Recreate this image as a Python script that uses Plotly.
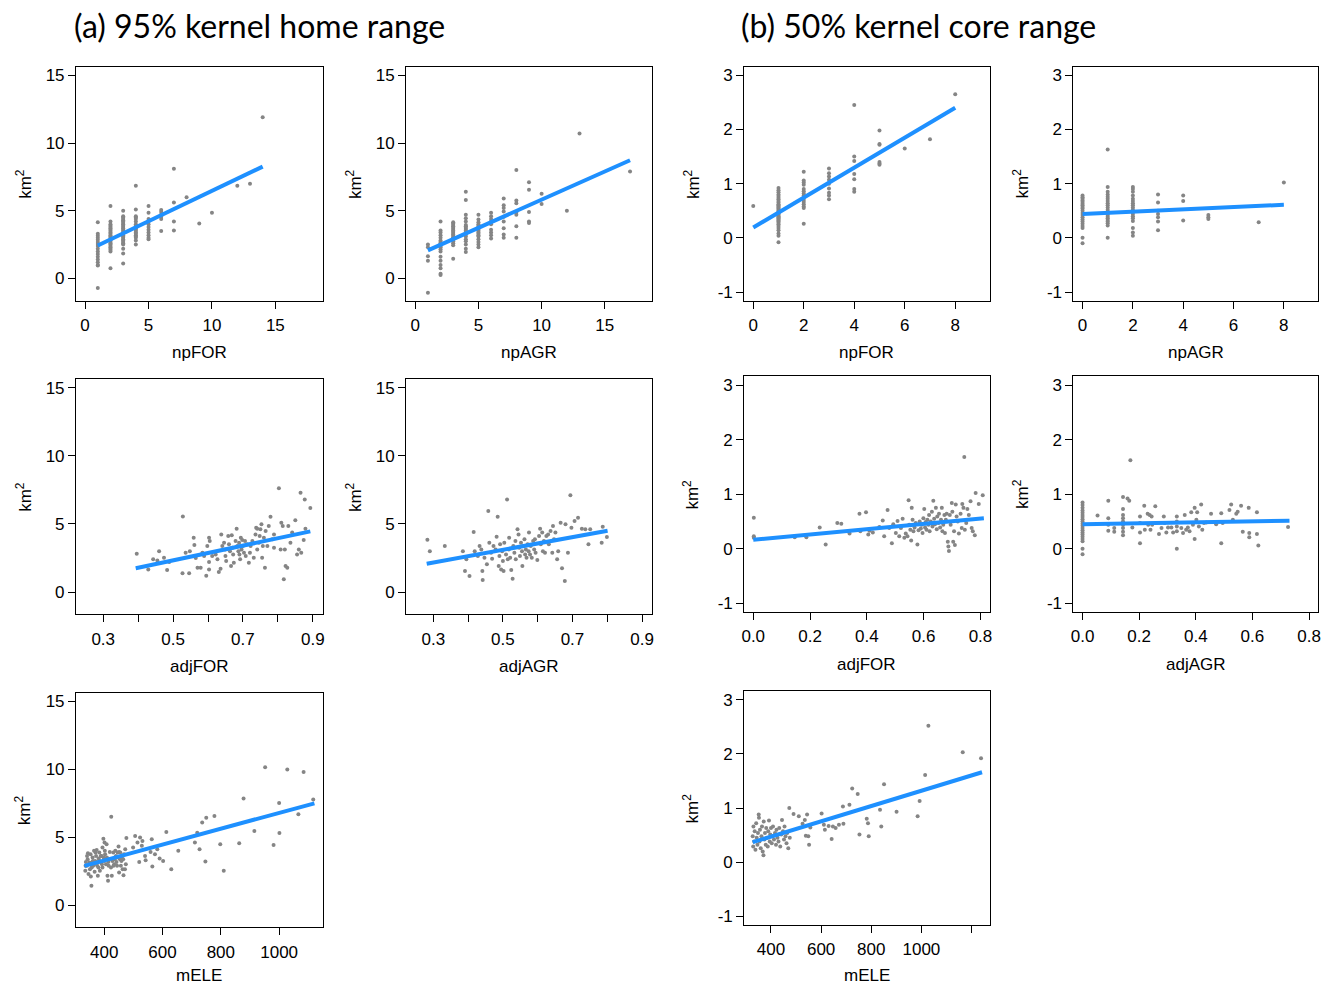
import plotly.graph_objects as go

W, H = 1338, 986

# ------------------------------------------------------------------ data
# (a) 95% kernel home range  -- discrete predictors: {x: [y values]}
a_npFOR = {
    1: [4.15, 3.3, 3.15, 3.0, 2.85, 2.7, 2.55, 2.4, 2.2, 2.0, 1.8, 1.6, 1.4, 1.2, 1.0, 0.95, -0.7],
    2: [5.35, 4.2, 4.0, 3.9, 3.8, 3.7, 3.6, 3.5, 3.4, 3.3, 3.2, 3.1, 3.0, 2.9, 2.8, 2.7, 2.6,
        2.5, 2.4, 2.3, 2.2, 2.1, 2.0, 0.75],
    3: [5.0, 4.6, 4.5, 4.4, 4.3, 4.2, 4.1, 4.0, 3.9, 3.8, 3.7, 3.6, 3.5, 3.4, 3.3, 3.2, 3.1,
        3.0, 2.9, 2.8, 2.7, 2.6, 2.5, 2.2, 1.85, 1.1],
    4: [6.85, 5.1, 4.6, 4.5, 4.4, 4.2, 4.0, 3.9, 3.8, 3.7, 3.6, 3.5, 3.4, 3.3, 3.2, 3.1, 3.0, 2.8, 2.5],
    5: [5.35, 4.85, 4.4, 4.2, 4.0, 3.8, 3.6, 3.4, 3.2, 3.0, 2.9],
    6: [5.05, 4.9, 4.7, 4.55, 4.4, 3.5],
    7: [8.1, 5.6, 4.2, 3.55],
    8: [6.0], 9: [4.05], 10: [4.85], 12: [6.85], 13: [7.0], 14: [11.9],
}
a_npFOR_fit_x = [1, 14]
a_npFOR_fit_y = [2.43, 8.26]

a_npAGR = {
    1: [2.5, 2.3, 1.65, 1.3, -1.05],
    2: [4.2, 3.55, 3.4, 3.2, 3.0, 2.8, 2.7, 2.6, 2.5, 2.4, 2.3, 2.15, 2.0, 1.6, 1.3, 1.0, 0.75, 0.35, 0.25],
    3: [4.15, 4.05, 3.95, 3.85, 3.75, 3.65, 3.55, 3.45, 3.35, 3.25, 3.15, 3.05, 2.95, 2.85, 2.75,
        2.6, 2.45, 1.45],
    4: [6.4, 5.8, 4.7, 4.45, 4.2, 3.95, 3.85, 3.75, 3.65, 3.55, 3.45, 3.35, 3.25, 3.1, 2.9, 2.75,
        2.5, 2.2, 1.95],
    5: [4.7, 4.35, 4.15, 4.0, 3.9, 3.8, 3.7, 3.6, 3.5, 3.4, 3.3, 3.2, 3.1, 2.9, 2.7, 2.5, 2.3],
    6: [4.85, 4.6, 4.4, 4.2, 4.0, 3.6, 3.4, 3.2, 2.95],
    7: [5.9, 5.4, 5.2, 4.95, 4.55, 4.2, 3.7, 3.25, 3.0],
    8: [8.0, 5.75, 5.55, 4.85, 4.7, 3.85, 3.0],
    9: [7.1, 6.55, 4.9, 4.2, 4.1],
    10: [6.25, 5.5], 12: [5.0], 13: [10.7], 17: [7.9],
}
a_npAGR_fit_x = [1, 17]
a_npAGR_fit_y = [2.08, 8.73]

# (a) continuous predictors
a_adjFOR_x = [0.396, 0.429, 0.443, 0.455, 0.46, 0.474, 0.483, 0.489, 0.528, 0.527, 0.536, 0.546, 0.548,
              0.559, 0.561, 0.565, 0.57, 0.579, 0.584, 0.589, 0.595, 0.598, 0.603, 0.605, 0.603, 0.603,
              0.612, 0.622, 0.627, 0.631, 0.636, 0.638, 0.641, 0.646, 0.649, 0.65, 0.652, 0.658, 0.66,
              0.663, 0.666, 0.668, 0.67, 0.672, 0.674, 0.679, 0.682, 0.684, 0.687, 0.689, 0.69, 0.692,
              0.694, 0.696, 0.698, 0.7, 0.703, 0.706, 0.708, 0.712, 0.717, 0.72, 0.722, 0.727, 0.731,
              0.736, 0.738, 0.741, 0.746, 0.748, 0.75, 0.753, 0.755, 0.757, 0.76, 0.763, 0.765, 0.77,
              0.774, 0.779, 0.784, 0.789, 0.803, 0.808, 0.81, 0.814, 0.817, 0.82, 0.822, 0.827, 0.83,
              0.836, 0.841, 0.85, 0.855, 0.86, 0.865, 0.867, 0.874, 0.877, 0.879, 0.893, 0.789, 0.741]
a_adjFOR_y = [2.81, 1.66, 2.4, 2.32, 3.0, 2.52, 1.61, 2.2, 5.55, 1.37, 2.89, 1.37, 3.0,
              3.99, 3.45, 2.5, 1.79, 1.79, 2.89, 2.64, 1.2, 3.38, 3.99, 3.74, 2.2, 1.66,
              2.64, 2.76, 2.4, 1.47, 1.71, 4.23, 3.38, 3.62, 3.13, 2.64, 2.28, 4.11, 3.5,
              3.0, 1.91, 4.16, 3.25, 2.76, 2.15, 3.74, 4.65, 3.38, 3.0, 3.62, 2.76, 2.4,
              3.99, 3.13, 3.82, 3.38, 2.89, 3.74, 2.64, 3.5, 2.15, 2.89, 3.38, 3.74, 2.52,
              4.23, 4.72, 3.13, 3.62, 4.11, 4.6, 4.97, 2.52, 3.38, 3.99, 1.79, 4.48, 3.38,
              4.84, 5.53, 3.87, 4.23, 7.61, 3.13, 5.09, 4.84, 0.93, 3.13, 1.91, 1.79, 4.84,
              3.62, 4.36, 5.26, 2.76, 3.13, 7.29, 2.89, 3.82, 6.8, 4.65, 6.17, 3.25, 4.65]
a_adjFOR_fit_x = [0.393, 0.893]
a_adjFOR_fit_y = [1.74, 4.45]

a_adjAGR_x = [0.283, 0.29, 0.333, 0.385, 0.391, 0.395, 0.404, 0.416, 0.419, 0.428, 0.433, 0.438, 0.441,
              0.442, 0.447, 0.454, 0.458, 0.461, 0.466, 0.469, 0.473, 0.479, 0.482, 0.485, 0.488, 0.49,
              0.492, 0.495, 0.498, 0.5, 0.502, 0.504, 0.509, 0.512, 0.514, 0.517, 0.518, 0.521, 0.524,
              0.528, 0.53, 0.533, 0.536, 0.537, 0.542, 0.545, 0.547, 0.549, 0.552, 0.555, 0.556, 0.559,
              0.562, 0.564, 0.566, 0.568, 0.571, 0.574, 0.575, 0.578, 0.58, 0.583, 0.587, 0.59, 0.592,
              0.594, 0.599, 0.604, 0.607, 0.609, 0.613, 0.615, 0.618, 0.621, 0.625, 0.63, 0.632, 0.637,
              0.642, 0.644, 0.647, 0.651, 0.656, 0.659, 0.666, 0.67, 0.678, 0.68, 0.687, 0.694, 0.697,
              0.706, 0.716, 0.727, 0.737, 0.746, 0.751, 0.784, 0.787, 0.799]
a_adjAGR_y = [3.84, 2.99, 3.38, 2.99, 1.54, 2.4, 1.17, 4.4, 3.0, 2.64, 3.38, 3.13, 1.54,
              0.88, 2.52, 2.03, 5.95, 3.62, 2.89, 2.45, 3.38, 3.13, 4.06, 5.53, 1.91, 2.64,
              3.5, 1.66, 3.0, 2.28, 1.54, 3.62, 2.76, 6.8, 2.4, 3.13, 3.99, 2.52, 1.61,
              0.98, 3.38, 2.89, 3.74, 2.4, 4.6, 4.23, 3.25, 2.64, 3.62, 3.0, 1.91, 3.38,
              3.87, 2.76, 3.13, 2.52, 3.5, 3.0, 4.36, 2.76, 3.38, 2.52, 3.74, 3.13, 3.87,
              2.89, 2.35, 4.11, 4.65, 3.5, 4.36, 3.0, 3.74, 2.89, 4.11, 4.23, 3.5, 4.48,
              2.89, 4.84, 3.87, 4.36, 2.4, 3.0, 5.09, 1.74, 0.81, 4.97, 2.89, 7.1, 4.72,
              5.21, 5.45, 4.65, 4.6, 3.5, 4.6, 3.62, 4.8, 4.04]
a_adjAGR_fit_x = [0.281, 0.801]
a_adjAGR_fit_y = [2.08, 4.5]

a_mELE_x = [335, 337, 340, 343, 344, 346, 351, 354, 356, 358, 360, 362, 365, 367, 369, 372, 374, 376,
            378, 381, 383, 385, 389, 391, 394, 394, 397, 400, 401, 403, 406, 408, 411, 413, 415, 417,
            419, 424, 426, 428, 431, 434, 438, 440, 442, 446, 449, 451, 454, 457, 460, 463, 466, 468,
            472, 474, 476, 336, 341, 349, 353, 357, 361, 366, 370, 375, 380, 384, 388, 392, 398, 402,
            409, 414, 423, 432, 436, 444, 448, 455, 459, 465, 471, 451,
            499, 506, 514, 520, 523, 529, 531, 540, 542, 559, 563, 565, 574, 582, 590, 602, 613, 630,
            654, 711, 719, 727, 736, 747, 750, 778, 798, 810, 863, 878, 915, 952, 981, 1000, 1001,
            1028, 1066, 1084, 1117]
a_mELE_y = [2.52, 3.18, 2.89, 3.38, 3.82, 2.28, 2.64, 2.1, 1.42, 3.13, 3.5, 2.89, 3.99, 2.45, 3.25, 3.62,
            4.06, 2.89, 2.15, 3.43, 3.87, 2.52, 3.13, 3.62, 4.23, 2.76, 4.89, 3.25, 4.6, 3.74, 3.0, 4.48,
            2.15, 1.79, 2.89, 3.38, 3.91, 6.51, 2.15, 3.25, 3.87, 3.0, 3.99, 3.62, 3.18, 3.87, 4.31, 2.4,
            3.38, 2.89, 3.5, 2.64, 2.2, 3.74, 4.11, 3.0, 4.94, 2.89, 3.62, 3.13, 3.74, 2.76, 3.25, 3.0,
            3.87, 3.18, 2.76, 3.25, 3.62, 3.0, 3.5, 3.99, 3.5, 3.18, 2.76, 2.89, 3.38, 2.89, 3.5, 3.87,
            3.25, 3.38, 2.64, 3.91,
            4.23, 5.09, 4.6, 3.18, 4.97, 4.36, 4.72, 3.62, 3.3, 3.91, 4.84, 2.84, 3.74, 4.11, 3.43, 3.25,
            5.38, 2.64, 3.99, 4.6, 5.33, 4.11, 6.07, 3.21, 6.43, 6.56, 4.48, 2.52, 4.55, 7.85, 5.46,
            10.15, 4.43, 7.51, 5.31, 9.98, 6.68, 9.79, 7.78]
a_mELE_fit_x = [332, 1121]
a_mELE_fit_y = [2.89, 7.49]

# (b) 50% kernel core range
b_npFOR = {
    0: [0.59],
    1: [0.92, 0.88, 0.84, 0.8, 0.77, 0.74, 0.71, 0.68, 0.65, 0.62, 0.6, 0.58, 0.56, 0.54, 0.52, 0.5,
        0.48, 0.46, 0.44, 0.42, 0.4, 0.38, 0.36, 0.34, 0.32, 0.3, 0.28, 0.25, 0.22, 0.18, 0.14, 0.08,
        0.04, -0.08],
    2: [1.22, 1.06, 1.02, 0.98, 0.9, 0.86, 0.82, 0.78, 0.74, 0.7, 0.66, 0.62, 0.58, 0.55, 0.26],
    3: [1.28, 1.19, 1.13, 1.07, 1.0, 0.91, 0.83, 0.78, 0.71],
    4: [2.45, 1.5, 1.42, 1.18, 1.08, 0.9, 0.85],
    5: [1.98, 1.73, 1.72, 1.4, 1.35, 1.37],
    6: [1.65], 7: [1.82], 8: [2.65],
}
b_npFOR_fit_x = [0, 8]
b_npFOR_fit_y = [0.19, 2.40]

b_npAGR = {
    0: [0.78, 0.75, 0.72, 0.69, 0.66, 0.63, 0.6, 0.57, 0.54, 0.5, 0.46, 0.42, 0.38, 0.34, 0.3, 0.26,
        0.22, 0.18, 0.0, -0.1],
    1: [1.63, 0.94, 0.85, 0.8, 0.76, 0.72, 0.68, 0.64, 0.6, 0.56, 0.52, 0.48, 0.45, 0.42, 0.39, 0.36,
        0.33, 0.3, 0.27, 0.23, 0.0],
    2: [0.94, 0.9, 0.85, 0.78, 0.72, 0.68, 0.64, 0.6, 0.56, 0.52, 0.48, 0.44, 0.4, 0.36, 0.31, 0.18,
        0.1, 0.04],
    3: [0.8, 0.65, 0.5, 0.44, 0.38, 0.3, 0.14],
    4: [0.78, 0.68, 0.32],
    5: [0.42, 0.38, 0.35],
    7: [0.29], 8: [1.02],
}
b_npAGR_fit_x = [0, 8]
b_npAGR_fit_y = [0.44, 0.61]

b_adjFOR_x = [0.002, 0.002, 0.002, 0.146, 0.187, 0.234, 0.255, 0.296, 0.31, 0.339, 0.374, 0.377, 0.397,
              0.405, 0.409, 0.421, 0.444, 0.456, 0.461, 0.473, 0.479, 0.488, 0.493, 0.502, 0.508, 0.514,
              0.52, 0.526, 0.532, 0.537, 0.543, 0.547, 0.549, 0.553, 0.556, 0.558, 0.561, 0.564, 0.568,
              0.572, 0.578, 0.582, 0.586, 0.59, 0.593, 0.596, 0.599, 0.602, 0.605, 0.607, 0.61, 0.613,
              0.617, 0.619, 0.621, 0.625, 0.629, 0.631, 0.634, 0.637, 0.64, 0.643, 0.646, 0.648, 0.652,
              0.654, 0.658, 0.661, 0.664, 0.666, 0.669, 0.673, 0.675, 0.678, 0.681, 0.685, 0.687, 0.689,
              0.692, 0.695, 0.699, 0.701, 0.704, 0.707, 0.71, 0.713, 0.716, 0.72, 0.724, 0.73, 0.734,
              0.736, 0.74, 0.743, 0.745, 0.75, 0.754, 0.759, 0.765, 0.769, 0.773, 0.78, 0.783, 0.794,
              0.808]
b_adjFOR_y = [0.57, 0.23, 0.2, 0.21, 0.21, 0.39, 0.08, 0.47, 0.46, 0.28, 0.64, 0.32, 0.67,
              0.26, 0.33, 0.3, 0.4, 0.52, 0.23, 0.71, 0.38, 0.1, 0.45, 0.29, 0.51, 0.23,
              0.38, 0.55, 0.2, 0.28, 0.23, 0.89, 0.44, 0.35, 0.15, 0.75, 0.53, 0.32, 0.39,
              0.47, 0.08, 0.34, 0.5, 0.37, 0.44, 0.29, 0.56, 0.73, 0.39, 0.49, 0.35, 0.53,
              0.44, 0.62, 0.32, 0.5, 0.68, 0.41, 0.88, 0.55, 0.45, 0.75, 0.36, 0.59, 0.47,
              0.64, 0.39, 0.53, 0.75, 0.32, 0.44, 0.62, 0.29, 0.53, 0.64, 0.13, 0.04, -0.04,
              0.62, 0.44, 0.84, 0.68, 0.13, 0.32, 0.07, 0.81, 0.59, 0.5, 0.28, 0.64, 0.38,
              0.82, 0.75, 1.68, 0.35, 0.47, 0.73, 0.62, 0.87, 0.38, 0.32, 0.25, 1.02, 0.82,
              0.98]
b_adjFOR_fit_x = [0.0, 0.812]
b_adjFOR_fit_y = [0.164, 0.56]

b_adjAGR_x = ([0.0] * 20 +
              [0.053, 0.091, 0.091, 0.091, 0.091, 0.112, 0.112] +
              [0.143] * 9 +
              [0.159, 0.165, 0.169, 0.176, 0.203, 0.203, 0.203, 0.203, 0.218, 0.22, 0.23, 0.232, 0.237,
               0.24, 0.244, 0.246, 0.257, 0.27, 0.279, 0.287, 0.29, 0.296, 0.302, 0.314, 0.32] +
              [0.333] * 5 +
              [0.349, 0.355, 0.361, 0.366, 0.372, 0.378, 0.384, 0.39, 0.396, 0.396, 0.402, 0.405, 0.411,
               0.419, 0.423, 0.429, 0.437, 0.454, 0.472, 0.49, 0.49, 0.495, 0.519, 0.525, 0.531, 0.543,
               0.548, 0.56, 0.566, 0.587, 0.589, 0.589, 0.616, 0.616, 0.621, 0.726])
b_adjAGR_y = ([0.85, 0.8, 0.75, 0.7, 0.66, 0.62, 0.58, 0.54, 0.5, 0.46, 0.42, 0.38, 0.34, 0.3, 0.26,
               0.22, 0.18, 0.14, 0.0, -0.1] +
              [0.61, 0.88, 0.56, 0.44, 0.33, 0.38, 0.31] +
              [0.95, 0.73, 0.62, 0.56, 0.5, 0.44, 0.38, 0.31, 0.25] +
              [0.92, 0.88, 1.62, 0.39, 0.59, 0.47, 0.3, 0.1, 0.79, 0.35, 0.64, 0.44, 0.62,
               0.35, 0.59, 0.44, 0.78, 0.27, 0.38, 0.59, 0.47, 0.3, 0.39, 0.39, 0.3] +
              [0.59, 0.5, 0.41, 0.32, 0.0] +
              [0.38, 0.29, 0.62, 0.35, 0.39, 0.32, 0.67, 0.44, 0.75, 0.18, 0.53, 0.67, 0.41,
               0.81, 0.35, 0.47, 0.48, 0.64, 0.45, 0.65, 0.1, 0.47, 0.71, 0.81, 0.53, 0.64,
               0.68, 0.79, 0.31, 0.75, 0.29, 0.21, 0.67, 0.27, 0.06, 0.4])
b_adjAGR_fit_x = [0.0, 0.731]
b_adjAGR_fit_y = [0.45, 0.515]

b_mELE_x = [327, 329, 330, 333, 335, 338, 341, 343, 346, 348, 351, 352, 354, 356, 359, 362, 364, 367,
            370, 371, 374, 376, 379, 381, 384, 387, 389, 392, 395, 397, 400, 403, 405, 408, 412, 416,
            420, 422, 426, 430, 433, 437, 441, 444, 448, 452, 454, 458, 462, 465, 469, 473, 475, 490,
            511, 526, 535, 539, 544, 549, 552, 557, 602, 611, 615, 630, 642, 647, 658, 671, 687, 689,
            713, 724, 746, 753, 782, 787, 790, 835, 840, 851, 901, 985, 993, 1015, 1028, 1165, 1238]
b_mELE_y = [0.48, 0.29, 0.66, 0.38, 0.57, 0.23, 0.72, 0.45, 0.32, 0.54, 0.88, 0.82, 0.38, 0.6, 0.26,
            0.48, 0.66, 0.2, 0.13, 0.75, 0.42, 0.54, 0.32, 0.63, 0.45, 0.29, 0.57, 0.77, 0.38, 0.51,
            0.63, 0.35, 0.48, 0.66, 0.42, 0.54, 0.32, 0.6, 0.45, 0.38, 0.63, 0.29, 0.51, 0.78, 0.57,
            0.42, 0.66, 0.48, 0.35, 0.54, 0.26, 1.0, 0.45, 0.89, 0.85, 0.71, 0.78, 0.49, 0.88, 0.48,
            0.32, 0.64, 0.9, 0.69, 0.6, 0.67, 0.43, 0.66, 0.63, 0.69, 1.03, 0.71, 1.06, 1.36, 1.26,
            0.51, 0.8, 0.72, 0.48, 0.97, 0.66, 1.44, 0.93, 0.85, 1.13, 1.61, 2.52, 2.03, 1.92]
b_mELE_fit_x = [327, 1242]
b_mELE_fit_y = [0.37, 1.66]

# tick labels
a_y_ticks = [0, 5, 10, 15]
a_y_text = ["0", "5", "10", "15"]
b_y_ticks = [-1, 0, 1, 2, 3]
b_y_text = ["-1", "0", "1", "2", "3"]
a_np_ticks = [0, 5, 10, 15]
b_np_ticks = [0, 2, 4, 6, 8]
a_adj_ticks = [0.3, 0.4, 0.5, 0.6, 0.7, 0.8, 0.9]
a_adj_text = ["0.3", "", "0.5", "", "0.7", "", "0.9"]
b_adj_ticks = [0.0, 0.2, 0.4, 0.6, 0.8]
b_adj_text = ["0.0", "0.2", "0.4", "0.6", "0.8"]
a_ele_ticks = [400, 600, 800, 1000]
b_ele_ticks = [400, 600, 800, 1000, 1200]
b_ele_text = ["400", "600", "800", "1000", ""]

titles = ["(a) 95% kernel home range", "(b) 50% kernel core range"]


def flat(d):
    xs = [k for k, v in d.items() for _ in v]
    ys = [y for v in d.values() for y in v]
    return xs, ys


# ------------------------------------------------------------------ layout (pixels)
COLS = [(73.3, 321.0), (405.0, 651.7), (744.5, 991.0), (1075.3, 1321.0)]
ROWS_A = [(66.7, 301.0), (379.3, 615.0), (693.3, 928.3)]
ROWS_B = [(66.7, 301.0), (376.7, 612.7), (691.7, 926.0)]
A_YR = [-1.64, 15.64]
B_YR = [-1.16, 3.16]

panels = [
    dict(col=0, row=0, side="a", xy=flat(a_npFOR), fit=(a_npFOR_fit_x, a_npFOR_fit_y),
         xr=[-0.72, 18.72], xt=a_np_ticks, xtt=None, lab="npFOR"),
    dict(col=1, row=0, side="a", xy=flat(a_npAGR), fit=(a_npAGR_fit_x, a_npAGR_fit_y),
         xr=[-0.72, 18.72], xt=a_np_ticks, xtt=None, lab="npAGR"),
    dict(col=2, row=0, side="b", xy=flat(b_npFOR), fit=(b_npFOR_fit_x, b_npFOR_fit_y),
         xr=[-0.36, 9.36], xt=b_np_ticks, xtt=None, lab="npFOR"),
    dict(col=3, row=0, side="b", xy=flat(b_npAGR), fit=(b_npAGR_fit_x, b_npAGR_fit_y),
         xr=[-0.36, 9.36], xt=b_np_ticks, xtt=None, lab="npAGR"),
    dict(col=0, row=1, side="a", xy=(a_adjFOR_x, a_adjFOR_y), fit=(a_adjFOR_fit_x, a_adjFOR_fit_y),
         xr=[0.222, 0.928], xt=a_adj_ticks, xtt=a_adj_text, lab="adjFOR"),
    dict(col=1, row=1, side="a", xy=(a_adjAGR_x, a_adjAGR_y), fit=(a_adjAGR_fit_x, a_adjAGR_fit_y),
         xr=[0.222, 0.928], xt=a_adj_ticks, xtt=a_adj_text, lab="adjAGR"),
    dict(col=2, row=1, side="b", xy=(b_adjFOR_x, b_adjFOR_y), fit=(b_adjFOR_fit_x, b_adjFOR_fit_y),
         xr=[-0.032, 0.832], xt=b_adj_ticks, xtt=b_adj_text, lab="adjFOR"),
    dict(col=3, row=1, side="b", xy=(b_adjAGR_x, b_adjAGR_y), fit=(b_adjAGR_fit_x, b_adjAGR_fit_y),
         xr=[-0.032, 0.832], xt=b_adj_ticks, xtt=b_adj_text, lab="adjAGR"),
    dict(col=0, row=2, side="a", xy=(a_mELE_x, a_mELE_y), fit=(a_mELE_fit_x, a_mELE_fit_y),
         xr=[303, 1149], xt=a_ele_ticks, xtt=None, lab="mELE"),
    dict(col=2, row=2, side="b", xy=(b_mELE_x, b_mELE_y), fit=(b_mELE_fit_x, b_mELE_fit_y),
         xr=[293, 1272], xt=b_ele_ticks, xtt=b_ele_text, lab="mELE"),
]

TICK_FONT = dict(family="Liberation Sans, Arial, sans-serif", size=17, color="black")
LAB_FONT = dict(family="Liberation Sans, Arial, sans-serif", size=17, color="black")
POINT_COLOR = "#858585"
LINE_COLOR = "#1E90FF"

fig = go.Figure()
layout = {}
annotations = []

for i, p in enumerate(panels, start=1):
    x0, x1 = COLS[p["col"]]
    rows = ROWS_A if p["side"] == "a" else ROWS_B
    top, bot = rows[p["row"]]
    yr = A_YR if p["side"] == "a" else B_YR
    yt = a_y_ticks if p["side"] == "a" else b_y_ticks
    ytt = a_y_text if p["side"] == "a" else b_y_text
    xa = "x" if i == 1 else f"x{i}"
    ya = "y" if i == 1 else f"y{i}"
    xs, ys = p["xy"]
    fig.add_trace(go.Scatter(x=xs, y=ys, mode="markers", xaxis=xa, yaxis=ya,
                             marker=dict(size=4, color=POINT_COLOR, line=dict(width=0)),
                             showlegend=False, hoverinfo="x+y"))
    fig.add_trace(go.Scatter(x=p["fit"][0], y=p["fit"][1], mode="lines", xaxis=xa, yaxis=ya,
                             line=dict(color=LINE_COLOR, width=4), showlegend=False))
    common = dict(showgrid=False, zeroline=False, showline=True, linecolor="black", linewidth=1,
                  mirror=True, ticks="outside", ticklen=7, tickwidth=1, tickcolor="black",
                  tickfont=TICK_FONT, fixedrange=True)
    xaxis = dict(common, domain=[x0 / W, x1 / W], range=p["xr"], anchor=ya,
                 tickmode="array", tickvals=p["xt"], ticklabelstandoff=2)
    if p["xtt"] is not None:
        xaxis["ticktext"] = p["xtt"]
    yaxis = dict(common, domain=[1 - bot / H, 1 - top / H], range=yr, anchor=xa,
                 tickmode="array", tickvals=yt, ticktext=ytt)
    layout["xaxis" if i == 1 else f"xaxis{i}"] = xaxis
    layout["yaxis" if i == 1 else f"yaxis{i}"] = yaxis
    # axis titles
    lab_y = min(bot + 52, 976)
    annotations.append(dict(text=p["lab"], xref="paper", yref="paper",
                            x=(x0 + x1) / 2 / W, y=1 - lab_y / H,
                            xanchor="center", yanchor="middle", showarrow=False, font=LAB_FONT))
    annotations.append(dict(text="km<sup>2</sup>", xref="paper", yref="paper",
                            x=(x0 - 53) / W, y=1 - (top + bot) / 2 / H, textangle=-90,
                            xanchor="center", yanchor="middle", showarrow=False, font=LAB_FONT))

TITLE_FONT = dict(family="Lato, Open Sans, sans-serif", size=32, color="black")
annotations.append(dict(text=titles[0], xref="paper", yref="paper", x=69 / W, y=1 - 26 / H,
                        xanchor="left", yanchor="middle", showarrow=False, font=TITLE_FONT))
annotations.append(dict(text=titles[1], xref="paper", yref="paper", x=739 / W, y=1 - 26 / H,
                        xanchor="left", yanchor="middle", showarrow=False, font=TITLE_FONT))

fig.update_layout(width=W, height=H, margin=dict(l=0, r=0, t=0, b=0),
                  paper_bgcolor="white", plot_bgcolor="white",
                  annotations=annotations, **layout)

fig.write_html("out.html", config={"displayModeBar": False},
               post_script="document.body.style.margin='0';")
